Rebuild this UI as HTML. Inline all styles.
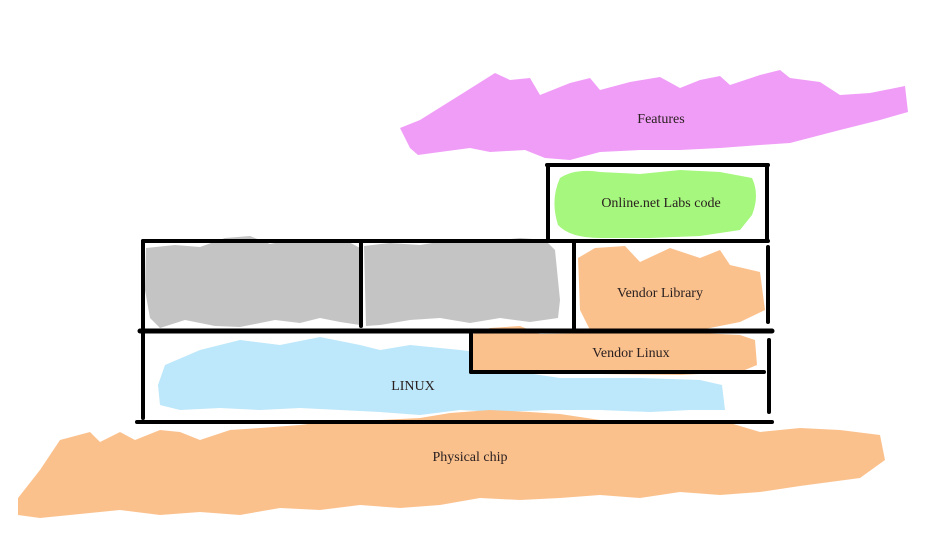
<!DOCTYPE html>
<html><head><meta charset="utf-8"><style>
html,body{margin:0;padding:0;background:#fff;}
svg{display:block;}
text{font-family:"Liberation Serif",serif;font-size:14px;fill:#2a2020;}
</style></head><body>
<svg width="928" height="536" viewBox="0 0 928 536" xmlns="http://www.w3.org/2000/svg">
<!-- Features -->
<polygon fill="#f09df7" points="400,128 420,120 460,95 495,73 510,80 530,78 540,95 570,83 590,78 600,90 630,82 660,77 680,88 700,80 720,76 730,85 760,75 780,70 790,78 820,82 840,95 870,93 905,86 908,112 880,120 840,130 790,143 760,145 720,148 680,150 640,150 600,152 570,160 545,158 525,150 490,152 470,148 440,152 418,155 410,148"/>
<!-- Green -->
<path fill="#a6f77d" d="M560,178 Q575,168 600,172 L640,174 L680,170 L720,172 L752,178 Q760,195 752,215 L740,230 L700,236 L650,238 L600,238 Q570,238 558,225 Q550,200 560,178Z"/>
<!-- Gray -->
<polygon fill="#c4c4c4" points="146,248 175,245 200,247 225,238 250,236 270,244 290,240 320,243 345,240 360,248 360,325 340,322 320,318 300,323 275,320 240,327 215,326 185,320 160,328 150,318 145,290"/>
<polygon fill="#c4c4c4" points="364,246 390,243 420,245 450,240 480,242 520,238 545,240 555,250 560,300 558,318 530,322 500,318 470,323 440,318 410,320 380,325 366,326"/>
<!-- Vendor library -->
<polygon fill="#fbc18d" points="578,258 595,248 625,246 640,262 670,248 700,258 720,250 730,265 760,272 765,310 740,322 700,330 660,332 620,330 590,330 580,310"/>
<!-- Blue LINUX -->
<polygon fill="#bde7fa" points="165,365 200,350 240,340 280,345 320,337 360,345 380,350 410,345 460,350 500,355 520,372 560,378 600,378 640,378 700,380 722,385 725,410 690,410 650,412 600,410 550,410 500,412 460,410 420,415 380,412 340,410 300,408 260,410 220,408 180,410 160,405 158,385"/>
<!-- Vendor Linux -->
<polygon fill="#fbc18d" points="470,335 490,328 520,326 540,334 600,333 680,332 740,335 755,340 757,365 740,372 680,375 600,374 520,372 470,372"/>
<!-- Physical chip -->
<polygon fill="#fbc18d" points="18,498 40,470 60,440 90,432 100,442 120,432 135,440 160,430 180,432 200,440 230,430 260,428 300,425 340,420 380,420 420,418 450,413 490,410 530,412 560,414 600,420 640,423 680,420 720,420 760,432 800,428 840,430 880,435 885,460 860,478 830,482 800,486 760,492 720,495 680,492 640,498 600,495 560,498 520,500 480,498 440,505 400,508 360,505 320,510 280,508 240,515 200,512 160,515 120,510 80,514 40,518 18,515"/>
<!-- Lines -->
<g stroke="#000" stroke-width="4" stroke-linecap="round" fill="none">
<line x1="547" y1="165" x2="768" y2="165"/>
<line x1="548" y1="165" x2="548" y2="240"/>
<line x1="767" y1="165" x2="767" y2="240"/>
<line x1="143" y1="241" x2="768" y2="241"/>
<line x1="143" y1="241" x2="143" y2="328"/>
<line x1="361" y1="241" x2="361" y2="326"/>
<line x1="574" y1="243" x2="574" y2="328"/>
<line x1="768" y1="247" x2="768" y2="322"/>
<line x1="140" y1="331" x2="772" y2="331" stroke-width="5"/>
<line x1="143" y1="333" x2="143" y2="418"/>
<line x1="769" y1="340" x2="769" y2="412"/>
<line x1="471" y1="334" x2="471" y2="372"/>
<line x1="471" y1="372" x2="764" y2="372"/>
<line x1="137" y1="422" x2="772" y2="422"/>
</g>
<text x="661" y="123" text-anchor="middle">Features</text>
<text x="661" y="207" text-anchor="middle">Online.net Labs code</text>
<text x="660" y="297" text-anchor="middle">Vendor Library</text>
<text x="631" y="357" text-anchor="middle">Vendor Linux</text>
<text x="413" y="390" text-anchor="middle">LINUX</text>
<text x="470" y="461" text-anchor="middle">Physical chip</text>
</svg>
</body></html>
